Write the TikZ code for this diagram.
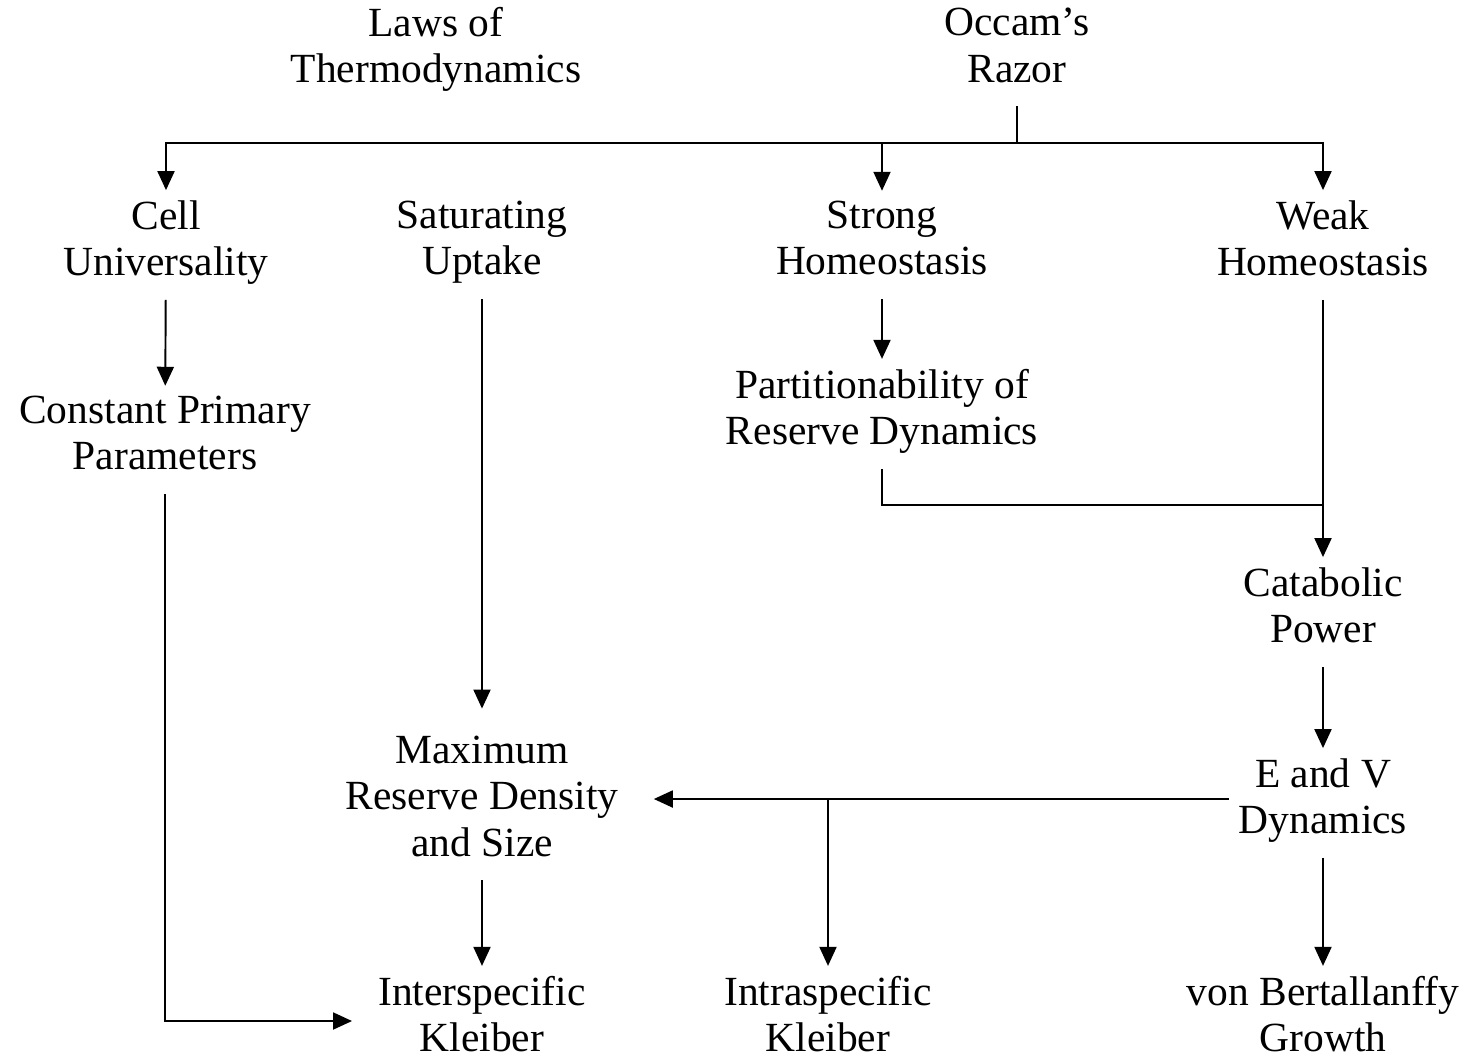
\documentclass[tikz,border=0pt]{standalone}
\usepackage{fontspec}
\setmainfont{Liberation Serif}
\usepackage{tikz}
\usetikzlibrary{positioning,arrows.meta,calc}
\tikzset{
  flowarrow/.style={-{Triangle[length=3.8mm, width=3.4mm]}, line width=1.1pt},
  plainline/.style={line width=1.1pt},
  concept/.style={align=center, inner sep=0.2cm, font=\fontsize{23.6}{26.4}\selectfont,
    execute at begin node=\strut, execute at end node=\strut}
}
\begin{document}
\begin{tikzpicture}[>=Latex]
      \useasboundingbox (0,0) rectangle (29.4,-21.12);
      % top row
      \node[concept] (laws) at (8.72,-1.04) {Laws of\\Thermodynamics};
      \node[concept] (occam) at (20.34,-1.04) {Occam's\\Razor};
      % assumptions
      \node[concept] (cell) at (3.32,-4.90) {Cell\\Universality};
      \node[concept] (sat) at (9.64,-4.90) {Saturating\\Uptake};
      \node[concept] (strong) at (17.64,-4.90) {Strong\\Homeostasis};
      \node[concept] (weak) at (26.46,-4.90) {Weak\\Homeostasis};
      \node[concept] (const) at (3.30,-8.80) {Constant Primary\\Parameters};
      \node[concept] (part) at (17.64,-8.28) {Partitionability of\\Reserve Dynamics};
      \node[concept] (cat) at (26.46,-12.24) {Catabolic\\Power};
      \node[concept] (ev) at (26.46,-16.06) {E and V\\Dynamics};
      \node[concept] (max) at (9.64,-16.06) {Maximum\\Reserve Density\\and Size};
      % results
      \node[concept] (inter) at (9.64,-20.42) {Interspecific\\Kleiber};
      \node[concept] (intra) at (16.56,-20.42) {Intraspecific\\Kleiber};
      \node[concept] (vonb) at (26.46,-20.42) {von Bertallanffy\\Growth};
      % connectors
      \coordinate (razorjoin) at (20.34,-2.86);
      \coordinate (partjoin) at (26.46,-10.1);
      \coordinate (evjoin) at (16.56,-15.98);
      \draw[plainline] (occam) -- (razorjoin);
      \draw[flowarrow] (razorjoin) -| (cell);
      \draw[flowarrow] (razorjoin) -| (strong);
      \draw[flowarrow] (razorjoin) -| (weak);
      \draw[flowarrow] (cell) -- (const);
      \draw[flowarrow] (strong) -- (part);
      \draw[flowarrow, shorten >=0.34cm] (sat) -- (max);
      \draw[flowarrow] (weak) -- (cat);
      \draw[plainline] (part) |- (partjoin);
      \draw[flowarrow] (cat) -- (ev);
      \draw[flowarrow, shorten >=0.5cm] (ev.west |- evjoin) -- (max.east |- evjoin);
      \draw[flowarrow] (evjoin) -- (intra);
      \draw[flowarrow] (ev) -- (vonb);
      \draw[flowarrow] (max) -- (inter);
      \draw[flowarrow, shorten >=0.32cm] (const) |- (inter);
    \end{tikzpicture}
\end{document}
